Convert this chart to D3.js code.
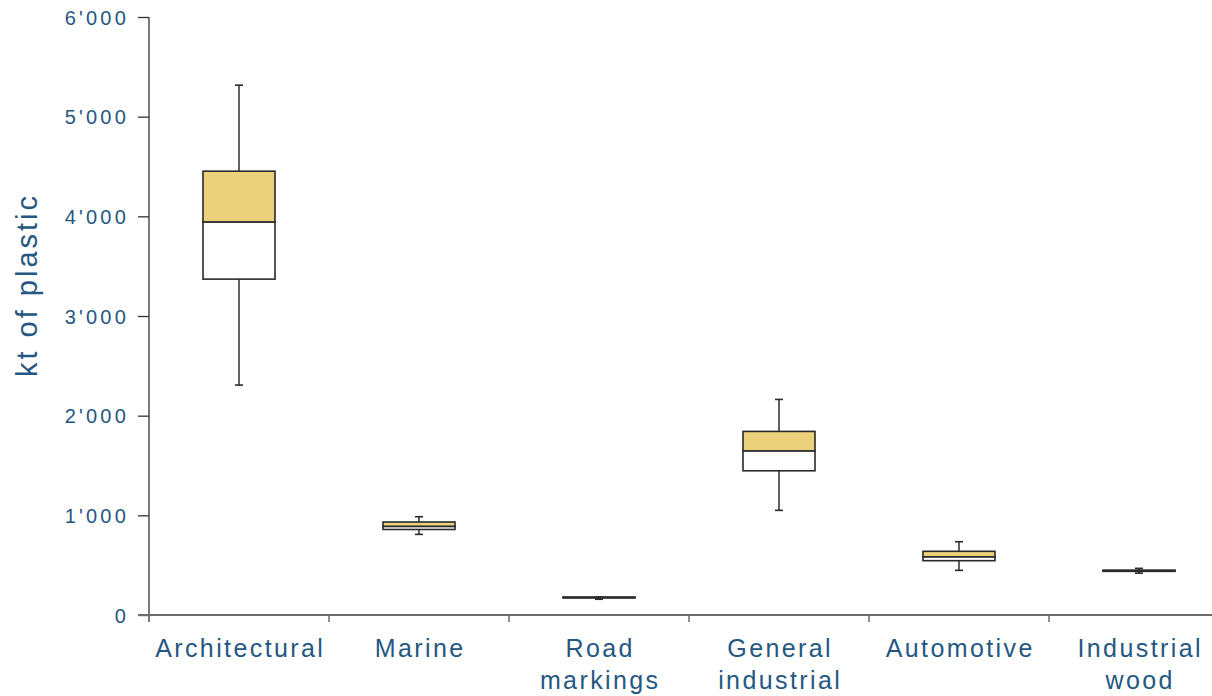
<!DOCTYPE html>
<html>
<head>
<meta charset="utf-8">
<script src="https://cdn.jsdelivr.net/npm/d3@7"></script>
<style>
  html, body { margin: 0; padding: 0; background: #fff; }
  svg { display: block; }
  text { font-family: "Liberation Sans", Arial, sans-serif; fill: #255782; }
</style>
</head>
<body>
<svg id="chart" width="1212" height="696"></svg>
<script>
// Data (kt of plastic)
const categories = ["Architectural", "Marine", "Road\nmarkings", "General\nindustrial", "Automotive", "Industrial\nwood"];
const whiskerMin = [2307, 809, 158, 1050, 448, 420];
const q1Values    = [3370, 858, 171, 1447, 545, 438];
const medians     = [3942, 888, 176, 1645, 582, 444];
const q3Values    = [4453, 933, 180, 1842, 639, 450];
const whiskerMax = [5316, 986, 180, 2163, 735, 468];
const yTicks = [0, 1000, 2000, 3000, 4000, 5000, 6000];
const yTickLabels = ["0", "1'000", "2'000", "3'000", "4'000", "5'000", "6'000"];
const yTitle = "kt of plastic";

const data = categories.map((c, i) => ({
  cat: c, min: whiskerMin[i], q1: q1Values[i], med: medians[i], q3: q3Values[i], max: whiskerMax[i]
}));

const svg = d3.select("#chart");
const x0 = 149, y0 = 615;
const x = d3.scaleBand().domain(categories).range([x0, x0 + 6 * 180]).paddingInner(0).paddingOuter(0);
const y = d3.scaleLinear().domain([0, 6000]).range([y0, 17]);

const axisColor = "#6b6b6b";

// Y axis
const yAxis = svg.append("g").attr("transform", `translate(${x0},0)`)
  .call(d3.axisLeft(y).tickValues(yTicks).tickSize(11).tickFormat((d, i) => yTickLabels[i]));
yAxis.select(".domain").attr("stroke", axisColor).attr("stroke-width", 1.8)
  .attr("d", `M0,${y(6000)}H0V${y0 + 7}`);
yAxis.selectAll(".tick line").attr("stroke", "#333").attr("stroke-width", 1.3);
yAxis.selectAll(".tick text")
  .attr("x", -20).attr("dy", "0.36em")
  .style("font-size", "20px").style("letter-spacing", "3.2px")
  .style("font-family", "'Liberation Sans', Arial, sans-serif")
  .attr("fill", "#255782");

// X axis
const xAxis = svg.append("g").attr("transform", `translate(0,${y0})`);
xAxis.append("line").attr("x1", x0 - 11).attr("x2", 1212).attr("y1", 0).attr("y2", 0)
  .attr("stroke", axisColor).attr("stroke-width", 1.8);
const bounds = categories.map(c => x(c)).concat([x0 + 6 * 180]);
xAxis.selectAll("line.xt").data(bounds.slice(1, 6)).enter().append("line")
  .attr("class", "xt")
  .attr("x1", d => d).attr("x2", d => d).attr("y1", 0).attr("y2", 7)
  .attr("stroke", axisColor).attr("stroke-width", 1.5);

// Category labels
const lab = svg.append("g");
categories.forEach(c => {
  const lines = c.split("\n");
  const t = lab.append("text")
    .attr("text-anchor", "middle")
    .style("font-size", "25px").style("letter-spacing", "2.4px");
  lines.forEach((l, j) => {
    t.append("tspan").attr("x", x(c) + x.bandwidth() / 2 + 1.2).attr("y", 657 + j * 32).text(l);
  });
});

// Y title
svg.append("text")
  .attr("transform", `translate(37,${285}) rotate(-90)`)
  .attr("text-anchor", "middle")
  .style("font-size", "29px").style("letter-spacing", "3px")
  .text(yTitle);

// Boxes
const boxW = x.bandwidth() * 0.4;
const capW = 8;
const g = svg.append("g");
const lineColor = "#2a2a2a";
data.forEach(d => {
  const cx = x(d.cat) + x.bandwidth() / 2;
  // whiskers
  g.append("line").attr("x1", cx).attr("x2", cx).attr("y1", y(d.max)).attr("y2", y(d.q3))
    .attr("stroke", "#3a3a3a").attr("stroke-width", 1.6);
  g.append("line").attr("x1", cx).attr("x2", cx).attr("y1", y(d.q1)).attr("y2", y(d.min))
    .attr("stroke", "#3a3a3a").attr("stroke-width", 1.6);
  g.append("line").attr("x1", cx - capW / 2).attr("x2", cx + capW / 2).attr("y1", y(d.max)).attr("y2", y(d.max))
    .attr("stroke", lineColor).attr("stroke-width", 1.6);
  g.append("line").attr("x1", cx - capW / 2).attr("x2", cx + capW / 2).attr("y1", y(d.min)).attr("y2", y(d.min))
    .attr("stroke", lineColor).attr("stroke-width", 1.6);
  // upper box (median -> q3)
  g.append("rect").attr("x", cx - boxW / 2).attr("width", boxW)
    .attr("y", y(d.q3)).attr("height", y(d.med) - y(d.q3))
    .attr("fill", "#ebd17b").attr("stroke", lineColor).attr("stroke-width", 1.6);
  // lower box (q1 -> median)
  g.append("rect").attr("x", cx - boxW / 2).attr("width", boxW)
    .attr("y", y(d.med)).attr("height", y(d.q1) - y(d.med))
    .attr("fill", "#ffffff").attr("stroke", lineColor).attr("stroke-width", 1.6);
});
</script>
</body>
</html>
